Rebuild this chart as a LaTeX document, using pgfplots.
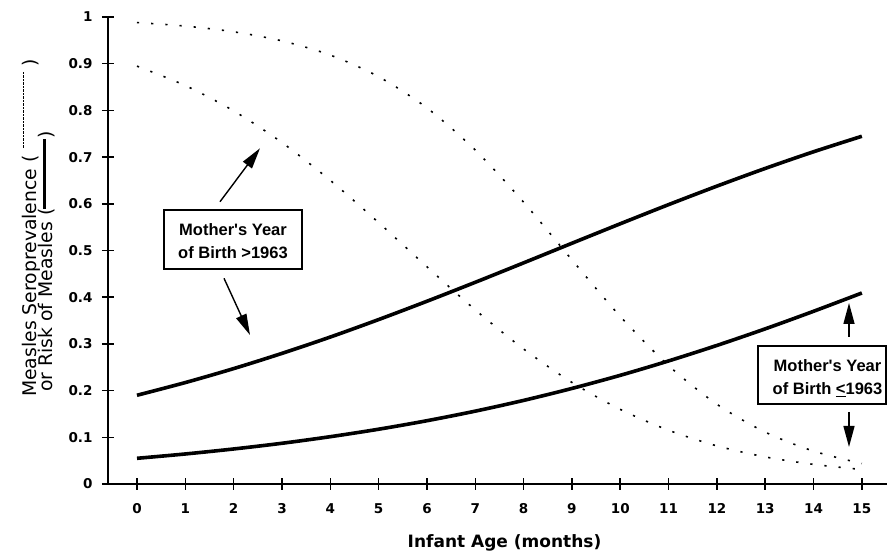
\documentclass[border=0pt]{standalone}
\usepackage{pgfplots}
\pgfplotsset{compat=1.18}
\usepackage{fontspec}
\setmainfont{DejaVu Sans}
\newfontfamily\lib{Liberation Sans}
\usetikzlibrary{arrows.meta}

\pgfplotstableread{
x  us     ls     ud     ld
0  0.1900 0.0550 0.9881 0.8947
1  0.2172 0.0643 0.9805 0.8532
2  0.2471 0.0750 0.9683 0.7990
3  0.2797 0.0872 0.9488 0.7311
4  0.3147 0.1013 0.9184 0.6502
5  0.3521 0.1173 0.8721 0.5597
6  0.3913 0.1355 0.8053 0.4651
7  0.4319 0.1560 0.7150 0.3729
8  0.4735 0.1790 0.6035 0.2891
9  0.5155 0.2046 0.4800 0.2175
10 0.5572 0.2327 0.3589 0.1598
11 0.5982 0.2635 0.2535 0.1151
12 0.6378 0.2967 0.1708 0.0816
13 0.6757 0.3322 0.1111 0.0580
14 0.7114 0.3698 0.0704 0.0420
15 0.7446 0.4090 0.0439 0.0310
}\datatab

\begin{document}
\begin{tikzpicture}
\useasboundingbox (-108pt,-69pt) rectangle (779pt,484pt);
\begin{axis}[
  at={(0pt,0pt)}, anchor=south west,
  scale only axis, width=779pt, height=467pt,
  xmin=-0.6, xmax=15.52, ymin=0, ymax=1,
  axis x line=bottom, axis y line=left,
  axis line style={-, line width=1.5pt},
  xtick={0,1,...,15},
  ytick={0,0.1,0.2,0.3,0.4,0.5,0.6,0.7,0.8,0.9,1},
  tick align=center, major tick length=12pt,
  tick style={line width=1.5pt, black},
  tick label style={font=\fontsize{13.5}{15}\selectfont\bfseries},
  /pgf/number format/assume math mode=true,
  yticklabel style={anchor=east, xshift=-6pt},
  xticklabel style={anchor=north, yshift=-10pt},
]
\addplot[black, line width=3.6pt, smooth] table[x=x, y=us] {\datatab};
\addplot[black, line width=3.6pt, smooth] table[x=x, y=ls] {\datatab};
\addplot[black, line width=1.6pt, dash pattern=on 2.2pt off 12pt, smooth] table[x=x, y=ud] {\datatab};
\addplot[black, line width=1.6pt, dash pattern=on 2.2pt off 12pt, smooth] table[x=x, y=ld] {\datatab};
\end{axis}

% axis labels
\node[anchor=base, font=\fontsize{17}{20}\selectfont\bfseries] at (396.5pt,-64pt) {Infant Age (months)};
\node[rotate=90, anchor=base west, inner sep=0pt, font=\fontsize{18.8}{22}\selectfont] at (-71pt,87pt)
  {Measles Seroprevalence (\hskip 6pt\leaders\hbox to 3.5pt{\hss\rule[12.5pt]{2.2pt}{1.4pt}\hss}\hskip 80pt\hskip 3pt)};
\node[rotate=90, anchor=base west, inner sep=0pt, font=\fontsize{18.8}{22}\selectfont] at (-55pt,92pt)
  {or Risk of Measles (\rule[6.5pt]{70pt}{3.3pt})};

% box 1
\draw[line width=1.3pt] (56pt,215pt) rectangle (194pt,274pt);
\node[anchor=base, font=\lib\fontsize{16.5}{20}\selectfont\bfseries] at (125pt,248pt) {Mother's Year};
\node[anchor=base, font=\lib\fontsize{16.5}{20}\selectfont\bfseries] at (125pt,225.7pt) {of Birth >1963};
\draw[line width=1.4pt, -{Triangle[length=21pt,width=11pt]}] (112pt,282.3pt) -- (152pt,335.7pt);
\draw[line width=1.4pt, -{Triangle[length=21pt,width=11pt]}] (116pt,205.7pt) -- (142pt,149pt);

% box 2
\draw[line width=1.3pt] (650pt,80pt) rectangle (778pt,138pt);
\node[anchor=base, font=\lib\fontsize{16.5}{20}\selectfont\bfseries] at (719.5pt,112.3pt) {Mother's Year};
\node[anchor=base, font=\lib\fontsize{16.5}{20}\selectfont\bfseries] at (719.5pt,89pt) {of Birth \underline{<}1963};
\draw[line width=1.4pt, -{Triangle[length=21pt,width=11pt]}] (741pt,147pt) -- (741pt,181pt);
\draw[line width=1.4pt, -{Triangle[length=21pt,width=11pt]}] (741pt,72pt) -- (741pt,37pt);
\end{tikzpicture}
\end{document}
